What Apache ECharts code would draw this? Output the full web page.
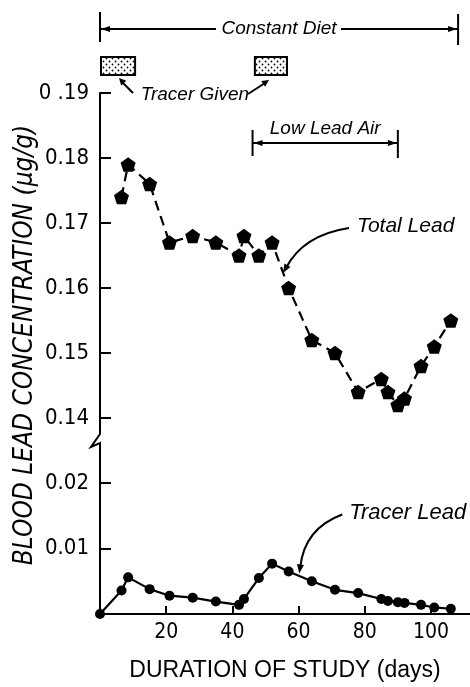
<!DOCTYPE html>
<html><head><meta charset="utf-8">
<script src="https://cdn.jsdelivr.net/npm/echarts@6/dist/echarts.min.js"></script>
<style>html,body{margin:0;padding:0;background:#fff}#c{width:470px;height:687px}</style>
</head><body><div id="c"></div>
<script>
// ---- data ----
const days = [6.5, 8.5, 15, 21, 28, 35, 42, 43.5, 48, 52, 57, 64, 71, 78, 85, 87, 90, 92, 97, 101, 106];
const totalLead = [0.174, 0.179, 0.176, 0.167, 0.168, 0.167, 0.165, 0.168, 0.165, 0.167, 0.160, 0.152, 0.150, 0.144, 0.146, 0.144, 0.142, 0.143, 0.148, 0.151, 0.155];
const tracerDays = [0, 6.5, 8.5, 15, 21, 28, 35, 42, 43.5, 48, 52, 57, 64, 71, 78, 85, 87, 90, 92, 97, 101, 106];
const tracerLead = [0, 0.0036, 0.0056, 0.0038, 0.0028, 0.0025, 0.0019, 0.0014, 0.0023, 0.0055, 0.0077, 0.0065, 0.0050, 0.0037, 0.0032, 0.0023, 0.0020, 0.0018, 0.0017, 0.0014, 0.0010, 0.0008];
const xTicks = [20, 40, 60, 80, 100];
const upperTicks = [0.14, 0.15, 0.16, 0.17, 0.18, 0.19];
const upperTickLabels = ['0.14', '0.15', '0.16', '0.17', '0.18', '0 .19'];
const lowerTicks = [0.01, 0.02];
const lowerTickLabels = ['0.01', '0.02'];
// annotation spans (days)
const constantDiet = [0, 108.2];
const lowLeadAir = [46.1, 90];
const tracerGiven = [[0.3, 10.6], [46.8, 56.5]];

const NARROW = '"Liberation Sans Narrow", "DejaVu Sans Condensed", "Liberation Sans", sans-serif';
const SANS = '"Liberation Sans", Arial, sans-serif';

function lab(ticks, labels) {
  return function (v) {
    for (let i = 0; i < ticks.length; i++) if (Math.abs(ticks[i] - v) < 1e-9) return labels[i];
    return '';
  };
}
const pentagon = 'path://M0,-1 L0.951,-0.309 L0.588,0.809 L-0.588,0.809 L-0.951,-0.309 Z';

const chart = echarts.init(document.getElementById('c'), null, {renderer: 'canvas'});
const axisLine = {show: true, onZero: false, lineStyle: {color: '#000', width: 2}};
chart.setOption({
  animation: false,
  backgroundColor: '#fff',
  grid: [
    {left: 100, right: 0, top: 93, height: 338},
    {left: 100, right: 0, top: 457, height: 157}
  ],
  xAxis: [
    {gridIndex: 0, type: 'value', min: 0, max: 111.8, show: false},
    {gridIndex: 1, type: 'value', min: 0, max: 111.8,
     axisLine: axisLine,
     axisTick: {show: true, inside: true, length: 8, lineStyle: {color: '#000', width: 2}, customValues: xTicks},
     axisLabel: {customValues: xTicks, color: '#000', fontFamily: NARROW, fontSize: 21, margin: 8},
     splitLine: {show: false},
     name: 'DURATION OF STUDY (days)', nameLocation: 'middle', nameGap: 45,
     nameTextStyle: {color: '#000', fontFamily: SANS, fontSize: 23}}
  ],
  yAxis: [
    {gridIndex: 0, type: 'value', min: 0.138, max: 0.19,
     axisLine: axisLine,
     axisTick: {show: true, inside: true, length: 11, lineStyle: {color: '#000', width: 2}, customValues: upperTicks},
     axisLabel: {customValues: upperTicks, formatter: lab(upperTicks, upperTickLabels), color: '#000', fontFamily: NARROW, fontSize: 22, margin: 11},
     splitLine: {show: false}},
    {gridIndex: 1, type: 'value', min: 0, max: 0.024,
     axisLine: axisLine,
     axisTick: {show: true, inside: true, length: 11, lineStyle: {color: '#000', width: 2}, customValues: lowerTicks},
     axisLabel: {customValues: lowerTicks, formatter: lab(lowerTicks, lowerTickLabels), color: '#000', fontFamily: NARROW, fontSize: 22, margin: 11},
     splitLine: {show: false}}
  ],
  series: [
    {type: 'line', xAxisIndex: 0, yAxisIndex: 0,
     data: days.map((d, i) => [d, totalLead[i]]),
     symbol: pentagon, symbolSize: [15, 14.3],
     itemStyle: {color: '#000'},
     lineStyle: {color: '#000', width: 2.2, type: [10, 6]}},
    {type: 'line', xAxisIndex: 1, yAxisIndex: 1,
     data: tracerDays.map((d, i) => [d, tracerLead[i]]),
     symbol: 'circle', symbolSize: 10,
     itemStyle: {color: '#000'},
     lineStyle: {color: '#000', width: 2.2}}
  ]
});

// ---- annotations ----
function P(g, x, y) { return chart.convertToPixel({gridIndex: g}, [x, y]); }
function head(tx, ty, fx, fy, len, w) {
  const dx = tx - fx, dy = ty - fy, L = Math.hypot(dx, dy) || 1;
  const ux = dx / L, uy = dy / L;
  const bx = tx - ux * len, by = ty - uy * len;
  return {type: 'polygon', shape: {points: [[tx, ty], [bx - uy * w, by + ux * w], [bx + uy * w, by - ux * w]]}, style: {fill: '#000'}};
}
const black = {stroke: '#000', lineWidth: 2, fill: null};
const g = [];

// constant diet bracket
{
  const x0 = P(0, constantDiet[0], 0.19)[0], x1 = P(0, constantDiet[1], 0.19)[0];
  const y = 29, cx = (x0 + x1) / 2;
  g.push({type: 'line', shape: {x1: x0, y1: 12, x2: x0, y2: 42}, style: black});
  g.push({type: 'line', shape: {x1: x1, y1: 14, x2: x1, y2: 45}, style: black});
  g.push({type: 'line', shape: {x1: x0, y1: y, x2: cx - 63, y2: y}, style: black});
  g.push({type: 'line', shape: {x1: cx + 62, y1: y, x2: x1, y2: y}, style: black});
  g.push(head(x0 + 1, y, x0 + 20, y, 9, 3));
  g.push(head(x1 - 1, y, x1 - 20, y, 9, 3));
  g.push({type: 'text', style: {text: 'Constant Diet', x: cx, y: y, align: 'center', verticalAlign: 'middle', fill: '#000', font: 'italic 19px ' + SANS}});
}
// tracer given boxes
{
  const pc = document.createElement('canvas'); pc.width = 6; pc.height = 6;
  const c = pc.getContext('2d');
  c.fillStyle = '#fff'; c.fillRect(0, 0, 6, 6); c.fillStyle = '#000';
  c.beginPath(); c.arc(1.5, 1.5, 0.9, 0, 2 * Math.PI); c.fill();
  c.beginPath(); c.arc(4.5, 4.5, 0.9, 0, 2 * Math.PI); c.fill();
  tracerGiven.forEach(function (s) {
    const a = P(0, s[0], 0.19)[0], b = P(0, s[1], 0.19)[0];
    g.push({type: 'rect', shape: {x: a, y: 57, width: b - a, height: 18}, style: {fill: {image: pc, repeat: 'repeat'}, stroke: '#000', lineWidth: 2}});
  });
  const a1 = P(0, tracerGiven[0][1], 0.19)[0], a2 = P(0, tracerGiven[1][0], 0.19)[0];
  const tx = (a1 + a2) / 2;
  g.push({type: 'text', style: {text: 'Tracer Given', x: tx, y: 95, align: 'center', verticalAlign: 'middle', fill: '#000', font: 'italic 19px ' + SANS}});
  g.push({type: 'line', shape: {x1: 133, y1: 93, x2: 122, y2: 82}, style: black});
  g.push(head(119, 78, 133, 93, 7, 3.5));
  g.push({type: 'line', shape: {x1: 248, y1: 94, x2: 265, y2: 83}, style: black});
  g.push(head(269, 80, 248, 94, 7, 3.5));
}
// low lead air bracket
{
  const x0 = P(0, lowLeadAir[0], 0.19)[0], x1 = P(0, lowLeadAir[1], 0.19)[0];
  const y = 143;
  g.push({type: 'line', shape: {x1: x0, y1: 130, x2: x0, y2: 156}, style: black});
  g.push({type: 'line', shape: {x1: x1, y1: 130, x2: x1, y2: 158}, style: black});
  g.push({type: 'line', shape: {x1: x0, y1: y, x2: x1, y2: y}, style: black});
  g.push(head(x0 + 1, y, x0 + 20, y, 9, 3));
  g.push(head(x1 - 1, y, x1 - 20, y, 9, 3));
  g.push({type: 'text', style: {text: 'Low Lead Air', x: (x0 + x1) / 2, y: 129, align: 'center', verticalAlign: 'middle', fill: '#000', font: 'italic 19px ' + SANS}});
}
// total lead label + arrow
{
  const t = P(0, 55.3, 0.1623);
  const sx = t[0] + 66, sy = t[1] - 45;
  const cpx = t[0] + 20, cpy = t[1] - 38;
  g.push({type: 'bezierCurve', shape: {x1: sx, y1: sy, x2: t[0] + 3, y2: t[1] - 5, cpx1: cpx, cpy1: cpy}, style: black});
  g.push(head(t[0], t[1], t[0] + 8, t[1] - 14, 9, 3.5));
  g.push({type: 'text', style: {text: 'Total Lead', x: sx + 8, y: sy - 2, align: 'left', verticalAlign: 'middle', fill: '#000', font: 'italic 21px ' + SANS}});
}
// tracer lead label + arrow
{
  const t = P(1, 60.2, 0.0062);
  const sx = t[0] + 43, sy = t[1] - 59;
  const cpx = t[0] + 5, cpy = t[1] - 45;
  g.push({type: 'bezierCurve', shape: {x1: sx, y1: sy, x2: t[0] + 1, y2: t[1] - 6, cpx1: cpx, cpy1: cpy}, style: black});
  g.push(head(t[0], t[1], t[0] + 2, t[1] - 14, 9, 3.5));
  g.push({type: 'text', style: {text: 'Tracer Lead', x: sx + 7, y: sy - 2, align: 'left', verticalAlign: 'middle', fill: '#000', font: 'italic 22px ' + SANS}});
}
// axis break
{
  const top = P(0, 0, 0.138), bot = P(1, 0, 0.024);
  const x = top[0];
  g.push({type: 'polyline', shape: {points: [[x, top[1] - 1], [x, top[1] + 3], [x - 9, top[1] + 16], [x, top[1] + 12], [x, bot[1] + 1]]}, style: black});
}
// y axis title
g.push({type: 'text', x: 25, y: 345, rotation: Math.PI / 2,
  style: {text: 'BLOOD LEAD CONCENTRATION (\u03bcg/g)', x: 0, y: 0, align: 'center', verticalAlign: 'middle', fill: '#000', font: 'italic 26px ' + NARROW}});

chart.setOption({graphic: g});
</script></body></html>
